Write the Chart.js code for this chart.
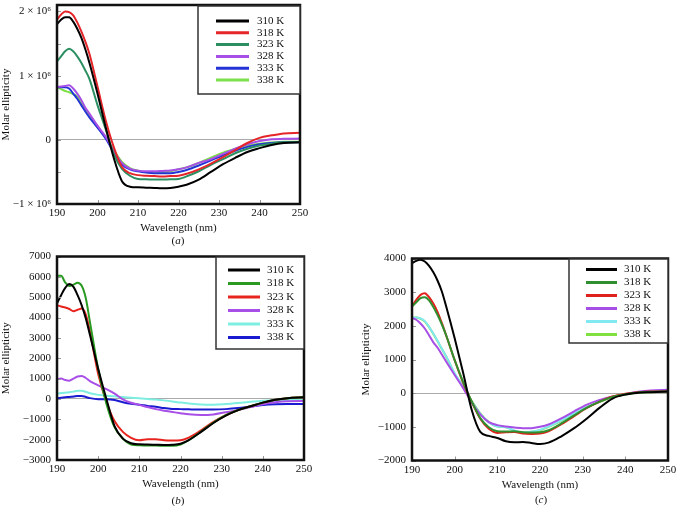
<!DOCTYPE html>
<html>
<head>
<meta charset="utf-8">
<script src="https://cdn.jsdelivr.net/npm/chart.js@4.4.1/dist/chart.umd.min.js"></script>
<style>
  body { margin: 0; background: #fff; width: 676px; height: 506px; position: relative; overflow: hidden; font-family: 'Liberation Serif', serif; color: #111; }
  canvas { position: absolute; }
  #chartA { left: 0; top: 0; }
  #chartB { left: 0; top: 245px; }
  #chartC { left: 350px; top: 245px; }
  .panel { position: absolute; font-size: 11px; transform: translate(-50%, -50%); white-space: nowrap; }
</style>
</head>
<body>
<canvas id="chartA" width="340" height="250"></canvas>
<canvas id="chartB" width="340" height="261"></canvas>
<canvas id="chartC" width="326" height="261"></canvas>
<div class="panel" style="left:178px; top:240px">(<i>a</i>)</div>
<div class="panel" style="left:178px; top:500px">(<i>b</i>)</div>
<div class="panel" style="left:541px; top:499px">(<i>c</i>)</div>
<script>
// wavelength grid (nm), shared by all three panels
const wavelengths = [190, 191, 192, 193, 194, 195, 196, 197, 198, 200, 202, 204, 206, 208, 210,
                     212, 214, 216, 218, 220, 222, 225, 228, 231, 234, 237, 240, 243, 246, 250];
const xTicks = [190, 200, 210, 220, 230, 240, 250];
const temps = ['310 K', '318 K', '323 K', '328 K', '333 K', '338 K'];

// (a) molar ellipticity, in units of 10^6
const a310 = [1.80, 1.87, 1.91, 1.91, 1.84, 1.73, 1.59, 1.41, 1.20, 0.72, 0.20, -0.28, -0.64, -0.73, -0.74,
              -0.745, -0.75, -0.755, -0.75, -0.73, -0.70, -0.62, -0.50, -0.38, -0.28, -0.19, -0.13, -0.08, -0.05, -0.04];
const a318 = [1.875, 1.95, 2.00, 1.99, 1.94, 1.83, 1.69, 1.53, 1.34, 0.83, 0.31, -0.11, -0.42, -0.52, -0.55,
              -0.56, -0.565, -0.57, -0.565, -0.56, -0.53, -0.46, -0.37, -0.27, -0.16, -0.05, 0.03, 0.07, 0.10, 0.11];
const a323 = [1.22, 1.30, 1.38, 1.42, 1.38, 1.30, 1.20, 1.08, 0.95, 0.54, 0.17, -0.22, -0.45, -0.56, -0.61,
              -0.615, -0.62, -0.62, -0.615, -0.61, -0.57, -0.49, -0.39, -0.30, -0.21, -0.14, -0.09, -0.06, -0.04, -0.04];
const a328 = [0.82, 0.83, 0.84, 0.85, 0.80, 0.72, 0.62, 0.50, 0.41, 0.22, 0.05, -0.17, -0.36, -0.45, -0.48,
              -0.49, -0.49, -0.485, -0.48, -0.46, -0.43, -0.36, -0.30, -0.22, -0.14, -0.07, -0.02, 0.01, 0.015, 0.02];
const a333 = [0.82, 0.82, 0.82, 0.80, 0.72, 0.64, 0.54, 0.44, 0.35, 0.19, 0.02, -0.19, -0.38, -0.46, -0.49,
              -0.51, -0.52, -0.52, -0.52, -0.50, -0.47, -0.40, -0.32, -0.24, -0.17, -0.11, -0.07, -0.05, -0.04, -0.04];
const a338 = [0.82, 0.79, 0.76, 0.74, 0.71, 0.67, 0.57, 0.47, 0.39, 0.21, 0.04, -0.16, -0.34, -0.44, -0.48,
              -0.50, -0.51, -0.505, -0.49, -0.46, -0.43, -0.36, -0.28, -0.20, -0.14, -0.09, -0.06, -0.04, -0.03, -0.03];
const aTicks = [-1, -0.5, 0, 0.5, 1, 1.5, 2];
const aColors = ['#000000', '#e4262a', '#2b8f62', '#a64ee6', '#2433d6', '#7ce04a'];

// (b)
const b310 = [4690, 5100, 5460, 5650, 5510, 5100, 4600, 3960, 3150, 1490, 0, -1350, -1950, -2180, -2230,
              -2240, -2250, -2260, -2250, -2200, -2020, -1620, -1180, -820, -550, -360, -180, -40, 40, 80];
const b318 = [6050, 6050, 5720, 5550, 5620, 5710, 5560, 4950, 3790, 1470, -230, -1400, -1950, -2240, -2280,
              -2290, -2290, -2300, -2300, -2240, -2030, -1600, -1160, -800, -540, -360, -180, -40, 40, 80];
const b323 = [4610, 4540, 4490, 4420, 4310, 4380, 4440, 4150, 3300, 1220, -150, -1100, -1620, -1910, -2030,
              -1980, -1980, -2030, -2040, -2030, -1900, -1540, -1130, -800, -540, -360, -180, -40, 40, 80];
const b328 = [970, 1000, 930, 900, 1000, 1100, 1130, 1030, 880, 670, 480, 260, -20, -190, -290,
              -400, -500, -580, -640, -700, -755, -790, -760, -650, -550, -400, -260, -160, -110, -100];
const b333 = [260, 290, 310, 330, 360, 400, 400, 350, 280, 200, 160, 130, 90, 60, 30,
              0, -30, -70, -120, -180, -220, -270, -280, -250, -200, -140, -90, -60, -50, -60];
const b338 = [40, 60, 80, 100, 120, 150, 150, 100, 40, -16, -10, -50, -160, -240, -280,
              -340, -380, -450, -490, -500, -510, -520, -520, -500, -450, -370, -300, -260, -245, -245];
const bTicks = [-3000, -2000, -1000, 0, 1000, 2000, 3000, 4000, 5000, 6000, 7000];
const bColors = ['#000000', '#2a9a22', '#e8241f', '#a84fe8', '#7eeee0', '#1a1ad0'];

// (c)
const c310 = [3860, 3930, 3960, 3910, 3780, 3590, 3340, 3020, 2580, 1630, 600, -500, -1150, -1270, -1330,
              -1430, -1460, -1450, -1480, -1510, -1470, -1280, -1040, -750, -430, -160, -40, 10, 30, 50];
const c318 = [2570, 2700, 2820, 2850, 2760, 2560, 2320, 2040, 1720, 980, 330, -250, -740, -1010, -1130,
              -1140, -1130, -1160, -1170, -1160, -1100, -900, -660, -430, -250, -110, -30, 20, 40, 50];
const c323 = [2570, 2770, 2920, 2970, 2850, 2660, 2410, 2080, 1720, 980, 300, -260, -760, -1060, -1180,
              -1160, -1150, -1200, -1210, -1200, -1130, -920, -680, -440, -250, -100, -20, 30, 50, 50];
const c328 = [2230, 2180, 2070, 1920, 1720, 1510, 1350, 1150, 940, 540, 150, -280, -630, -860, -950,
              -990, -1020, -1040, -1040, -1000, -930, -750, -540, -340, -200, -100, -30, 40, 80, 100];
const c333 = [2230, 2250, 2220, 2140, 1970, 1770, 1550, 1320, 1100, 590, 190, -240, -610, -870, -990,
              -1010, -1110, -1170, -1140, -1090, -990, -810, -600, -410, -250, -110, -30, 20, 40, 50];
const c338 = [2230, 2250, 2210, 2130, 1960, 1760, 1540, 1310, 1090, 580, 200, -230, -600, -860, -990,
              -1010, -1120, -1180, -1150, -1100, -1000, -820, -610, -420, -260, -120, -40, 10, 30, 50];
const cTicks = [-2000, -1000, 0, 1000, 2000, 3000, 4000];
const cColors = ['#000000', '#2f8f2f', '#e0201a', '#a64ee6', '#80e8f0', '#80e040'];

Chart.defaults.font.family = "'Liberation Serif', serif";
Chart.defaults.font.size = 11;
Chart.defaults.color = '#111';

// border, inner tick marks and the boxed legend
const frame = {
    id: 'frame',
    afterDraw(chart, args, o) {
        const {ctx, chartArea: a, scales: {x, y}} = chart;
        ctx.save();
        ctx.strokeStyle = '#999';
        ctx.lineWidth = 1;
        ctx.beginPath();
        x.ticks.forEach(t => {
            const px = Math.round(x.getPixelForValue(t.value)) + 0.5;
            ctx.moveTo(px, a.bottom);
            ctx.lineTo(px, a.bottom - 4);
        });
        y.ticks.forEach(t => {
            const py = Math.round(y.getPixelForValue(t.value)) + 0.5;
            ctx.moveTo(a.left, py);
            ctx.lineTo(a.left + 4, py);
        });
        ctx.stroke();

        ctx.strokeStyle = '#111';
        ctx.lineWidth = 2.5;
        ctx.strokeRect(a.left, a.top, a.right - a.left, a.bottom - a.top);

        const bx = a.right - o.w, by = a.top + o.dy;
        ctx.fillStyle = '#fff';
        ctx.fillRect(bx, by, o.w, o.h);
        ctx.strokeStyle = '#333';
        ctx.lineWidth = 1.5;
        ctx.strokeRect(bx, by, o.w, o.h);
        ctx.font = "11px 'Liberation Serif'";
        ctx.textBaseline = 'middle';
        ctx.textAlign = 'left';
        chart.data.datasets.forEach((ds, i) => {
            const ry = by + o.firstY + i * o.rowH;
            ctx.strokeStyle = ds.borderColor;
            ctx.lineWidth = 3;
            ctx.beginPath();
            ctx.moveTo(bx + o.sampleX, ry);
            ctx.lineTo(bx + o.sampleX + o.sampleW, ry);
            ctx.stroke();
            ctx.fillStyle = '#111';
            ctx.fillText(ds.label, bx + o.textX, ry);
        });
        ctx.restore();
    }
};

function makeChart(id, series, colors, p) {
    const datasets = series.map((vals, i) => ({
        label: temps[i],
        data: wavelengths.map((w, j) => ({x: w, y: vals[j]})),
        borderColor: colors[i],
        borderWidth: 2,
        pointRadius: 0,
        fill: false,
        cubicInterpolationMode: 'monotone'
    }));
    return new Chart(document.getElementById(id), {
        type: 'line',
        data: {datasets: datasets},
        plugins: [frame],
        options: {
            responsive: false,
            animation: false,
            devicePixelRatio: 1,
            layout: {padding: {left: 0, top: p.top, right: p.right, bottom: 0}},
            plugins: {
                legend: {display: false},
                tooltip: {enabled: false},
                frame: p.legend
            },
            scales: {
                x: {
                    type: 'linear',
                    min: 190,
                    max: 250,
                    afterBuildTicks: s => { s.ticks = xTicks.map(v => ({value: v})); },
                    afterFit: s => { s.height = p.xh; s.paddingLeft = 0; s.paddingRight = 0; },
                    grid: {display: false, drawTicks: false},
                    border: {display: false},
                    ticks: {padding: 3, autoSkip: false, maxRotation: 0},
                    title: {display: true, text: 'Wavelength (nm)', padding: {top: 0, bottom: p.xtPad}}
                },
                y: {
                    type: 'linear',
                    min: p.min,
                    max: p.max,
                    afterBuildTicks: s => { s.ticks = p.ticks.map(v => ({value: v})); },
                    afterFit: s => { s.width = p.yw; s.paddingTop = 0; s.paddingBottom = 0; },
                    grid: {
                        drawTicks: false,
                        color: c => (c.tick && c.tick.value === 0) ? '#aaaaaa' : 'rgba(0,0,0,0)'
                    },
                    border: {display: false},
                    ticks: {padding: 6, autoSkip: false, callback: p.fmt},
                    title: {display: true, text: 'Molar ellipticity', padding: {top: p.ytPad, bottom: 0}}
                }
            }
        }
    });
}

const minus = v => String(v).replace('-', '\u2212');

makeChart('chartA', [a310, a318, a323, a328, a333, a338], aColors, {
    min: -1, max: 2.1, ticks: aTicks,
    fmt: v => Number.isInteger(v) ? (v === 0 ? '0' : minus(v) + ' \u00d7 10\u2076') : '',
    top: 5, right: 40, yw: 57, xh: 46, xtPad: 15, ytPad: 0,
    legend: {w: 102, h: 88, dy: 1, sampleX: 18, sampleW: 33, textX: 59, firstY: 15, rowH: 11.8}
});

makeChart('chartB', [b310, b318, b323, b328, b333, b338], bColors, {
    min: -3000, max: 7000, ticks: bTicks, fmt: minus,
    top: 11.5, right: 36, yw: 57, xh: 46, xtPad: 15, ytPad: 0,
    legend: {w: 88, h: 92, dy: 0.5, sampleX: 12, sampleW: 32, textX: 51, firstY: 13, rowH: 13.5}
});

makeChart('chartC', [c310, c318, c323, c328, c333, c338], cColors, {
    min: -2000, max: 4000, ticks: cTicks, fmt: minus,
    top: 13.5, right: 8, yw: 62, xh: 45.5, xtPad: 14, ytPad: 10,
    legend: {w: 99, h: 84, dy: 0.5, sampleX: 17, sampleW: 31, textX: 55, firstY: 10.5, rowH: 13}
});
</script>
</body>
</html>
